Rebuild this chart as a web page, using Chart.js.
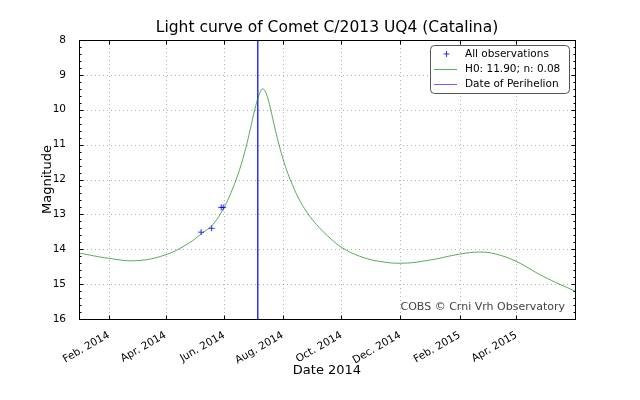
<!DOCTYPE html>
<html>
<head>
<meta charset="utf-8">
<script src="https://cdn.jsdelivr.net/npm/chart.js@4.4.1/dist/chart.umd.min.js"></script>
<style>
  html, body { margin: 0; padding: 0; background: #fff; }
  #chart { display: block; }
</style>
</head>
<body>
<canvas id="chart" width="640" height="400"></canvas>
<script>
// model light curve
const curveDates = [
  '2014-01-01', '2014-02-01', '2014-03-01', '2014-04-01', '2014-04-25', '2014-05-09',
  '2014-05-20', '2014-06-01', '2014-06-10', '2014-06-17', '2014-06-23', '2014-06-28',
  '2014-07-03', '2014-07-07', '2014-07-11', '2014-07-15', '2014-07-19', '2014-07-24',
  '2014-07-29', '2014-08-04', '2014-08-11', '2014-08-19', '2014-08-29', '2014-09-08',
  '2014-09-20', '2014-10-02', '2014-10-20', '2014-11-10', '2014-12-05', '2015-01-01',
  '2015-02-01', '2015-02-22', '2015-03-11', '2015-04-01', '2015-04-29', '2015-06-01'
];
const curveMags = [
  14.11, 14.26, 14.33, 14.16, 13.83, 13.54,
  13.30, 12.80, 12.25, 11.72, 11.15, 10.58,
  9.98, 9.60, 9.40, 9.55, 9.95, 10.55,
  11.10, 11.65, 12.15, 12.62, 13.05, 13.38,
  13.70, 13.96, 14.20, 14.35, 14.40, 14.31,
  14.14, 14.08, 14.14, 14.35, 14.78, 15.20
];

// observations
const obsDates = ['2014-05-08', '2014-05-19', '2014-05-29', '2014-05-31'];
const obsMags = [13.51, 13.40, 12.80, 12.80];

const perihelionDate = '2014-07-06';

const xMinDate = '2014-01-01';
const xMaxDate = '2015-06-01';
const xTickDates = ['2014-02-01', '2014-04-01', '2014-06-01', '2014-08-01',
                    '2014-10-01', '2014-12-01', '2015-02-01', '2015-04-01'];
const xTickLabels = ['Feb. 2014', 'Apr. 2014', 'Jun. 2014', 'Aug. 2014',
                     'Oct. 2014', 'Dec. 2014', 'Feb. 2015', 'Apr. 2015'];
const yMin = 8;
const yMax = 16;

const FONT = '"DejaVu Sans", sans-serif';
const CURVE_COLOR = 'rgba(0,128,0,0.65)';
const PERI_COLOR = 'rgba(0,0,255,0.6)';
const toTime = d => Date.parse(d);

const curveData = curveDates.map((d, i) => ({ x: toTime(d), y: curveMags[i] }));
const obsData = obsDates.map((d, i) => ({ x: toTime(d), y: obsMags[i] }));
const periData = [{ x: toTime(perihelionDate), y: yMin }, { x: toTime(perihelionDate), y: yMax }];

// matplotlib look: dotted grid, frame, inward ticks, texts
const decorations = {
  id: 'decorations',
  beforeDatasetsDraw(chart) {
    const { ctx, chartArea: a, scales: { x, y } } = chart;
    ctx.save();
    ctx.strokeStyle = 'rgba(0,0,0,0.3)';
    ctx.lineWidth = 1;
    ctx.setLineDash([1, 3]);
    xTickDates.forEach(d => {
      const px = Math.round(x.getPixelForValue(toTime(d))) + 0.5;
      ctx.beginPath(); ctx.moveTo(px, a.top); ctx.lineTo(px, a.bottom); ctx.stroke();
    });
    for (let v = yMin + 1; v < yMax; v++) {
      const py = Math.round(y.getPixelForValue(v)) + 0.5;
      ctx.beginPath(); ctx.moveTo(a.left, py); ctx.lineTo(a.right, py); ctx.stroke();
    }
    ctx.restore();
  },
  afterDatasetsDraw(chart) {
    const { ctx, chartArea: a, scales: { x, y } } = chart;
    const L = Math.round(a.left) + 0.5, R = Math.round(a.right) + 0.5;
    const T = Math.round(a.top) + 0.5, B = Math.round(a.bottom) + 0.5;
    ctx.save();
    ctx.strokeStyle = '#000';
    ctx.lineWidth = 1;
    ctx.beginPath();
    // x ticks (bottom + top)
    xTickDates.forEach(d => {
      const px = Math.round(x.getPixelForValue(toTime(d))) + 0.5;
      ctx.moveTo(px, B); ctx.lineTo(px, B - 4);
      ctx.moveTo(px, T); ctx.lineTo(px, T + 4);
    });
    // y ticks, major and minor (left + right)
    for (let k = 0; k <= (yMax - yMin) * 5; k++) {
      const v = yMin + k * 0.2;
      const len = k % 5 === 0 ? 4 : 2;
      const py = Math.round(y.getPixelForValue(v)) + 0.5;
      ctx.moveTo(L, py); ctx.lineTo(L + len, py);
      ctx.moveTo(R, py); ctx.lineTo(R - len, py);
    }
    ctx.stroke();
    ctx.strokeRect(L, T, R - L, B - T);

    // title and axis titles
    const cx = (a.left + a.right) / 2;
    ctx.fillStyle = '#000';
    ctx.textAlign = 'center';
    ctx.textBaseline = 'middle';
    ctx.font = '15.5px ' + FONT;
    ctx.fillText('Light curve of Comet C/2013 UQ4 (Catalina)', cx, 28);
    ctx.font = '13px ' + FONT;
    ctx.fillText('Date 2014', cx, 371);
    ctx.save();
    ctx.translate(48, (a.top + a.bottom) / 2);
    ctx.rotate(-Math.PI / 2);
    ctx.fillText('Magnitude', 0, 0);
    ctx.restore();

    // credit
    ctx.font = '11px ' + FONT;
    ctx.fillStyle = '#444';
    ctx.textAlign = 'right';
    ctx.textBaseline = 'alphabetic';
    ctx.fillText('COBS \u00a9 Crni Vrh Observatory', 565, 310);

    // legend
    const bx = 430.5, by = 45.5, bw = 139, bh = 48;
    ctx.fillStyle = '#fff';
    ctx.strokeStyle = '#555';
    ctx.beginPath();
    ctx.roundRect(bx, by, bw, bh, 4);
    ctx.fill();
    ctx.stroke();
    const rows = [54.5, 69.5, 84.5];
    ctx.font = '10.5px ' + FONT;
    ctx.fillStyle = '#000';
    ctx.textAlign = 'left';
    ctx.textBaseline = 'middle';
    // + marker
    ctx.strokeStyle = 'rgba(0,0,255,0.8)';
    ctx.beginPath();
    ctx.moveTo(443.5, rows[0] - 0.5); ctx.lineTo(449.5, rows[0] - 0.5);
    ctx.moveTo(446.5, rows[0] - 3.5); ctx.lineTo(446.5, rows[0] + 2.5);
    ctx.stroke();
    ctx.fillText('All observations', 465, rows[0]);
    ctx.strokeStyle = CURVE_COLOR;
    ctx.beginPath(); ctx.moveTo(434, rows[1]); ctx.lineTo(457, rows[1]); ctx.stroke();
    ctx.fillText('H0: 11.90; n: 0.08', 465, rows[1]);
    ctx.strokeStyle = PERI_COLOR;
    ctx.beginPath(); ctx.moveTo(434, rows[2]); ctx.lineTo(457, rows[2]); ctx.stroke();
    ctx.fillText('Date of Perihelion', 465, rows[2]);
    ctx.restore();
  }
};

new Chart(document.getElementById('chart'), {
  type: 'line',
  data: {
    datasets: [
      {
        label: 'All observations',
        type: 'scatter',
        data: obsData,
        showLine: false,
        pointStyle: 'cross',
        pointRadius: 3,
        borderColor: 'rgba(0,0,255,0.8)',
        borderWidth: 1,
        order: 1
      },
      {
        label: 'H0: 11.90; n: 0.08',
        data: curveData,
        borderColor: CURVE_COLOR,
        borderWidth: 1,
        pointRadius: 0,
        tension: 0.4,
        fill: false,
        order: 2
      },
      {
        label: 'Date of Perihelion',
        data: periData,
        borderColor: PERI_COLOR,
        borderWidth: 1,
        pointRadius: 0,
        fill: false,
        order: 3
      }
    ]
  },
  options: {
    responsive: false,
    animation: false,
    layout: { padding: { top: 40, right: 65, left: 0, bottom: 0 } },
    plugins: {
      legend: { display: false },
      tooltip: { enabled: false },
      title: { display: false }
    },
    scales: {
      x: {
        type: 'linear',
        min: toTime(xMinDate),
        max: toTime(xMaxDate),
        afterBuildTicks: scale => {
          scale.ticks = xTickDates.map(d => ({ value: toTime(d) }));
        },
        afterFit: scale => { scale.height = 81; },
        grid: { display: false },
        border: { display: false },
        ticks: {
          autoSkip: false,
          minRotation: 30,
          maxRotation: 30,
          padding: 2,
          color: '#000',
          font: { family: FONT, size: 10.5 },
          callback: (v, i) => xTickLabels[i]
        }
      },
      y: {
        type: 'linear',
        reverse: true,
        min: yMin,
        max: yMax,
        afterFit: scale => { scale.width = 79; },
        grid: { display: false },
        border: { display: false },
        ticks: {
          stepSize: 1,
          padding: 5,
          color: '#000',
          font: { family: FONT, size: 10.5 }
        }
      }
    }
  },
  plugins: [decorations]
});
</script>
</body>
</html>
